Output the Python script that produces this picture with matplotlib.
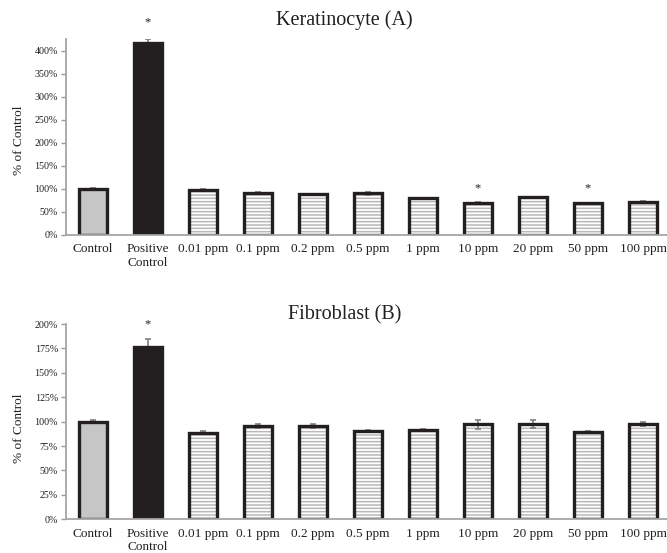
import matplotlib
matplotlib.use("Agg")
import matplotlib.pyplot as plt
from matplotlib.ticker import FuncFormatter, MultipleLocator

plt.rcParams['font.family'] = ['Liberation Serif', 'DejaVu Serif']
plt.rcParams['hatch.linewidth'] = 1.1

categories = ["Control", "Positive\nControl", "0.01 ppm", "0.1 ppm", "0.2 ppm",
              "0.5 ppm", "1 ppm", "10 ppm", "20 ppm", "50 ppm", "100 ppm"]

# Keratinocyte viability, fraction of control
kera_values = [1.00, 4.17, 0.97, 0.92, 0.89, 0.91, 0.80, 0.70, 0.82, 0.69, 0.72]
kera_errors = [0.015, 0.08, 0.02, 0.015, 0.01, 0.03, 0.01, 0.01, 0.01, 0.01, 0.01]
kera_signif = [False, True, False, False, False, False, False, True, False, True, False]

# Fibroblast viability, fraction of control
fibro_values = [1.00, 1.765, 0.888, 0.955, 0.955, 0.907, 0.917, 0.972, 0.972, 0.894, 0.972]
fibro_errors = [0.012, 0.08, 0.012, 0.025, 0.02, 0.01, 0.012, 0.05, 0.04, 0.012, 0.02]
fibro_signif = [False, True, False, False, False, False, False, False, False, False, False]

W, H = 667, 553
fig = plt.figure(figsize=(W / 100, H / 100), dpi=100)

LEFT = 65.5 / W
RIGHT = 670.5 / W
INK = '#231f20'


def panel(rect, values, errors, signif, title, ymax, step, title_y,
          star_gap, label_y):
    ax = fig.add_axes(rect)
    x = list(range(len(values)))
    width = 0.5
    for i, v in enumerate(values):
        if i == 0:
            ax.bar(i, v, width, color='#c6c6c6', linewidth=0, zorder=2)
        elif i == 1:
            # solid dark fill sits above the error bar stem
            ax.bar(i, v, width, color=INK, linewidth=0, zorder=2.7)
        else:
            ax.bar(i, v, width, color='white', edgecolor='#b8b8b8',
                   hatch='-----', linewidth=0, zorder=2)
    # heavy black outlines
    ax.bar(x, values, width, fill=False, edgecolor=INK,
           linewidth=2.4, zorder=3)
    ax.errorbar(x, values, yerr=errors, fmt='none', ecolor='#7f7f7f',
                elinewidth=1.2, capsize=2.5, capthick=1.2, zorder=2.5)
    for i, s in enumerate(signif):
        if s:
            gap = star_gap[0] if i == 1 else star_gap[1]
            ax.annotate('*', (i, values[i] + errors[i]), xytext=(0, gap),
                        textcoords='offset pixels', ha='center', va='center',
                        fontsize=9, color=INK)
    ax.set_xlim(-0.5, len(values) - 0.5)
    ax.set_ylim(0, ymax)
    ax.yaxis.set_major_locator(MultipleLocator(step))
    ax.yaxis.set_major_formatter(FuncFormatter(lambda v, p: f"{v * 100:.0f}%"))
    ax.set_xticks(x)
    ax.set_xticklabels(categories, fontsize=9.5, linespacing=1.2)
    ax.tick_params(axis='x', length=0, pad=6, colors=INK)
    ax.tick_params(axis='y', length=3.5, width=1, color='#999999',
                   labelsize=7.2, pad=2, labelcolor=INK)
    for k in ('top', 'right'):
        ax.spines[k].set_visible(False)
    for k in ('left', 'bottom'):
        ax.spines[k].set_color('#a6a6a6')
        ax.spines[k].set_linewidth(1.3)
        ax.spines[k].set_zorder(5)
    ax.set_ylabel('% of Control', fontsize=9.5, color=INK)
    ax.yaxis.set_label_coords(-0.067, label_y)
    fig.text(344.5 / W, title_y, title, ha='center', va='center',
             fontsize=14.5, color=INK)
    return ax


top_rect = [LEFT, 318 / H, RIGHT - LEFT, (235 - 38.5) / H]
panel(top_rect, kera_values, kera_errors, kera_signif, 'Keratinocyte (A)',
      4.27, 0.5, 1 - 20 / H, (17, 14), 0.483)

bot_rect = [LEFT, (H - 519.3) / H, RIGHT - LEFT, (519.3 - 324) / H]
panel(bot_rect, fibro_values, fibro_errors, fibro_signif, 'Fibroblast (B)',
      2.0, 0.25, 1 - 315 / H, (15, 15), 0.467)

fig.savefig('out.png', dpi=100)
